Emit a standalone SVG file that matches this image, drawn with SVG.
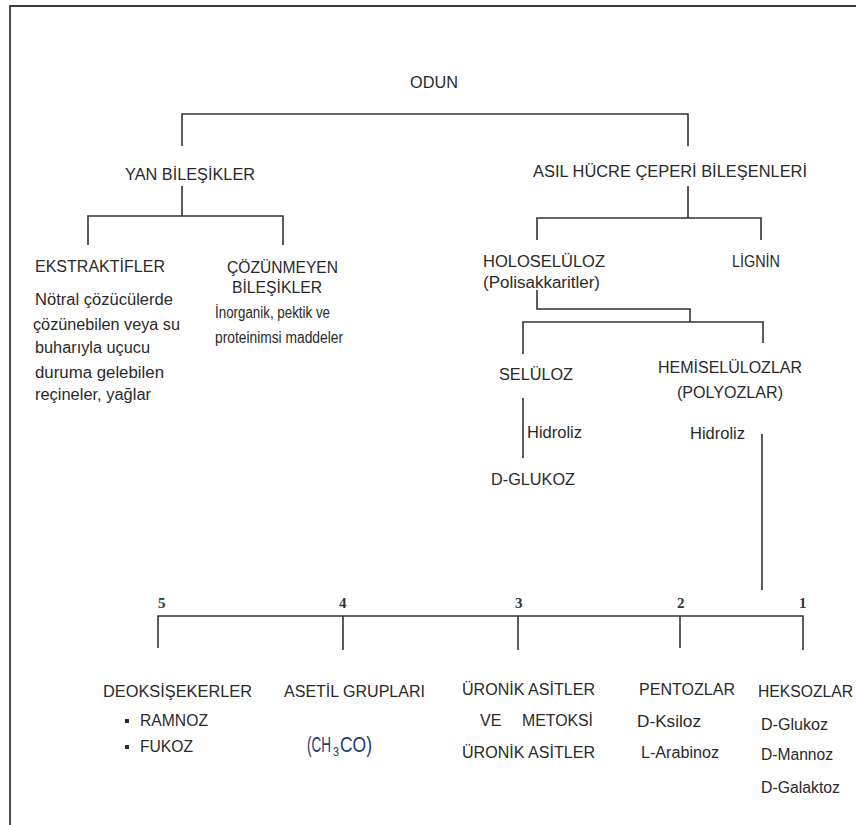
<svg xmlns="http://www.w3.org/2000/svg" width="856" height="825" viewBox="0 0 856 825">
<style>
text{font-family:"Liberation Sans",Arial,sans-serif;font-size:16px;fill:#2a2a2a}
.sm{font-size:16px}
.num{font-family:"Liberation Serif","Times New Roman",serif;font-weight:bold;font-size:15px;fill:#333}
.ch{font-size:22px;fill:#243a6b}
.sub{font-size:13px;fill:#243a6b}
.ln{fill:none;stroke:#333;stroke-width:1.6}
.bd{fill:none;stroke:#3a3a3a;stroke-width:1.8}
</style>
<rect width="856" height="825" fill="#fff"/>
<path class="bd" d="M10,825 V6 H856"/>
<g id="connectors">
<path class="ln" d="M182,146 V114 H688 V146"/>
<path class="ln" d="M182,186 V216"/>
<path class="ln" d="M88,245 V216 H283 V245"/>
<path class="ln" d="M688,186 V218"/>
<path class="ln" d="M537,240 V218 H761 V240"/>
<path class="ln" d="M537,290 V309 H690 V322"/>
<path class="ln" d="M523,354 V322 H763 V343"/>
<path class="ln" d="M523,398 V458"/>
<path class="ln" d="M762,434 V590"/>
<path class="ln" d="M158,648 V616 H803 V650"/>
<path class="ln" d="M343,616 V650"/>
<path class="ln" d="M518,616 V650"/>
<path class="ln" d="M680,616 V648"/>
</g>
<g id="odun"><text x="410" y="88" textLength="48" lengthAdjust="spacingAndGlyphs">ODUN</text></g>
<g id="yan"><text x="125" y="180" textLength="130" lengthAdjust="spacingAndGlyphs">YAN BİLEŞİKLER</text></g>
<g id="asil"><text x="533" y="177" textLength="274" lengthAdjust="spacingAndGlyphs">ASIL HÜCRE ÇEPERİ BİLEŞENLERİ</text></g>
<g id="ekstraktifler">
<text x="35" y="272" textLength="130" lengthAdjust="spacingAndGlyphs">EKSTRAKTİFLER</text>
<text x="35" y="305" textLength="138" lengthAdjust="spacingAndGlyphs">Nötral çözücülerde</text>
<text x="33" y="330" textLength="147" lengthAdjust="spacingAndGlyphs">çözünebilen veya su</text>
<text x="35" y="353" textLength="115" lengthAdjust="spacingAndGlyphs">buharıyla uçucu</text>
<text x="35" y="378" textLength="129" lengthAdjust="spacingAndGlyphs">duruma gelebilen</text>
<text x="35" y="400" textLength="116" lengthAdjust="spacingAndGlyphs">reçineler, yağlar</text>
</g>
<g id="cozunmeyen">
<text x="227" y="273" textLength="111" lengthAdjust="spacingAndGlyphs">ÇÖZÜNMEYEN</text>
<text x="232" y="293" textLength="90" lengthAdjust="spacingAndGlyphs">BİLEŞİKLER</text>
<text class="sm" x="215" y="318" textLength="115" lengthAdjust="spacingAndGlyphs">İnorganik, pektik ve</text>
<text class="sm" x="215" y="343" textLength="128" lengthAdjust="spacingAndGlyphs">proteinimsi maddeler</text>
</g>
<g id="holoseluloz">
<text x="483" y="267" textLength="122" lengthAdjust="spacingAndGlyphs">HOLOSELÜLOZ</text>
<text x="483" y="288" textLength="117" lengthAdjust="spacingAndGlyphs">(Polisakkaritler)</text>
</g>
<g id="lignin"><text x="732" y="267" textLength="48" lengthAdjust="spacingAndGlyphs">LİGNİN</text></g>
<g id="seluloz"><text x="499" y="380" textLength="74" lengthAdjust="spacingAndGlyphs">SELÜLOZ</text></g>
<g id="hemiseluloz">
<text x="658" y="373" textLength="144" lengthAdjust="spacingAndGlyphs">HEMİSELÜLOZLAR</text>
<text x="677" y="398" textLength="106" lengthAdjust="spacingAndGlyphs">(POLYOZLAR)</text>
</g>
<g id="hidroliz1"><text x="527" y="438" textLength="55" lengthAdjust="spacingAndGlyphs">Hidroliz</text></g>
<g id="dglukoz"><text x="491" y="485" textLength="84" lengthAdjust="spacingAndGlyphs">D-GLUKOZ</text></g>
<g id="hidroliz2"><text x="690" y="439" textLength="55" lengthAdjust="spacingAndGlyphs">Hidroliz</text></g>
<g id="numbers">
<text class="num" x="158" y="608">5</text>
<text class="num" x="339" y="608">4</text>
<text class="num" x="515" y="608">3</text>
<text class="num" x="677" y="608">2</text>
<text class="num" x="799" y="608">1</text>
</g>
<g id="deoksisekerler">
<text x="103" y="697" textLength="149" lengthAdjust="spacingAndGlyphs">DEOKSİŞEKERLER</text>
<rect x="125" y="719" width="4" height="4" fill="#2a2a2a"/>
<text x="140" y="726" textLength="68" lengthAdjust="spacingAndGlyphs">RAMNOZ</text>
<rect x="125" y="745" width="4" height="4" fill="#2a2a2a"/>
<text x="140" y="752" textLength="53" lengthAdjust="spacingAndGlyphs">FUKOZ</text>
</g>
<g id="asetil">
<text x="284" y="697" textLength="141" lengthAdjust="spacingAndGlyphs">ASETİL GRUPLARI</text>
<text class="ch" x="307" y="752" textLength="24" lengthAdjust="spacingAndGlyphs">(CH</text>
<text class="sub" x="333" y="756" textLength="6" lengthAdjust="spacingAndGlyphs">3</text>
<text class="ch" x="340" y="752" textLength="32" lengthAdjust="spacingAndGlyphs">CO)</text>
</g>
<g id="uronik">
<text x="462" y="695" textLength="133" lengthAdjust="spacingAndGlyphs">ÜRONİK ASİTLER</text>
<text x="480" y="726">VE</text>
<text x="522" y="726" textLength="71" lengthAdjust="spacingAndGlyphs">METOKSİ</text>
<text x="462" y="758" textLength="133" lengthAdjust="spacingAndGlyphs">ÜRONİK ASİTLER</text>
</g>
<g id="pentozlar">
<text x="639" y="695" textLength="96" lengthAdjust="spacingAndGlyphs">PENTOZLAR</text>
<text x="637" y="727" textLength="64" lengthAdjust="spacingAndGlyphs">D-Ksiloz</text>
<text x="641" y="758" textLength="78" lengthAdjust="spacingAndGlyphs">L-Arabinoz</text>
</g>
<g id="heksozlar">
<text x="758" y="697" textLength="95" lengthAdjust="spacingAndGlyphs">HEKSOZLAR</text>
<text x="761" y="730" textLength="67" lengthAdjust="spacingAndGlyphs">D-Glukoz</text>
<text x="761" y="760" textLength="72" lengthAdjust="spacingAndGlyphs">D-Mannoz</text>
<text x="761" y="793" textLength="79" lengthAdjust="spacingAndGlyphs">D-Galaktoz</text>
</g>
</svg>
